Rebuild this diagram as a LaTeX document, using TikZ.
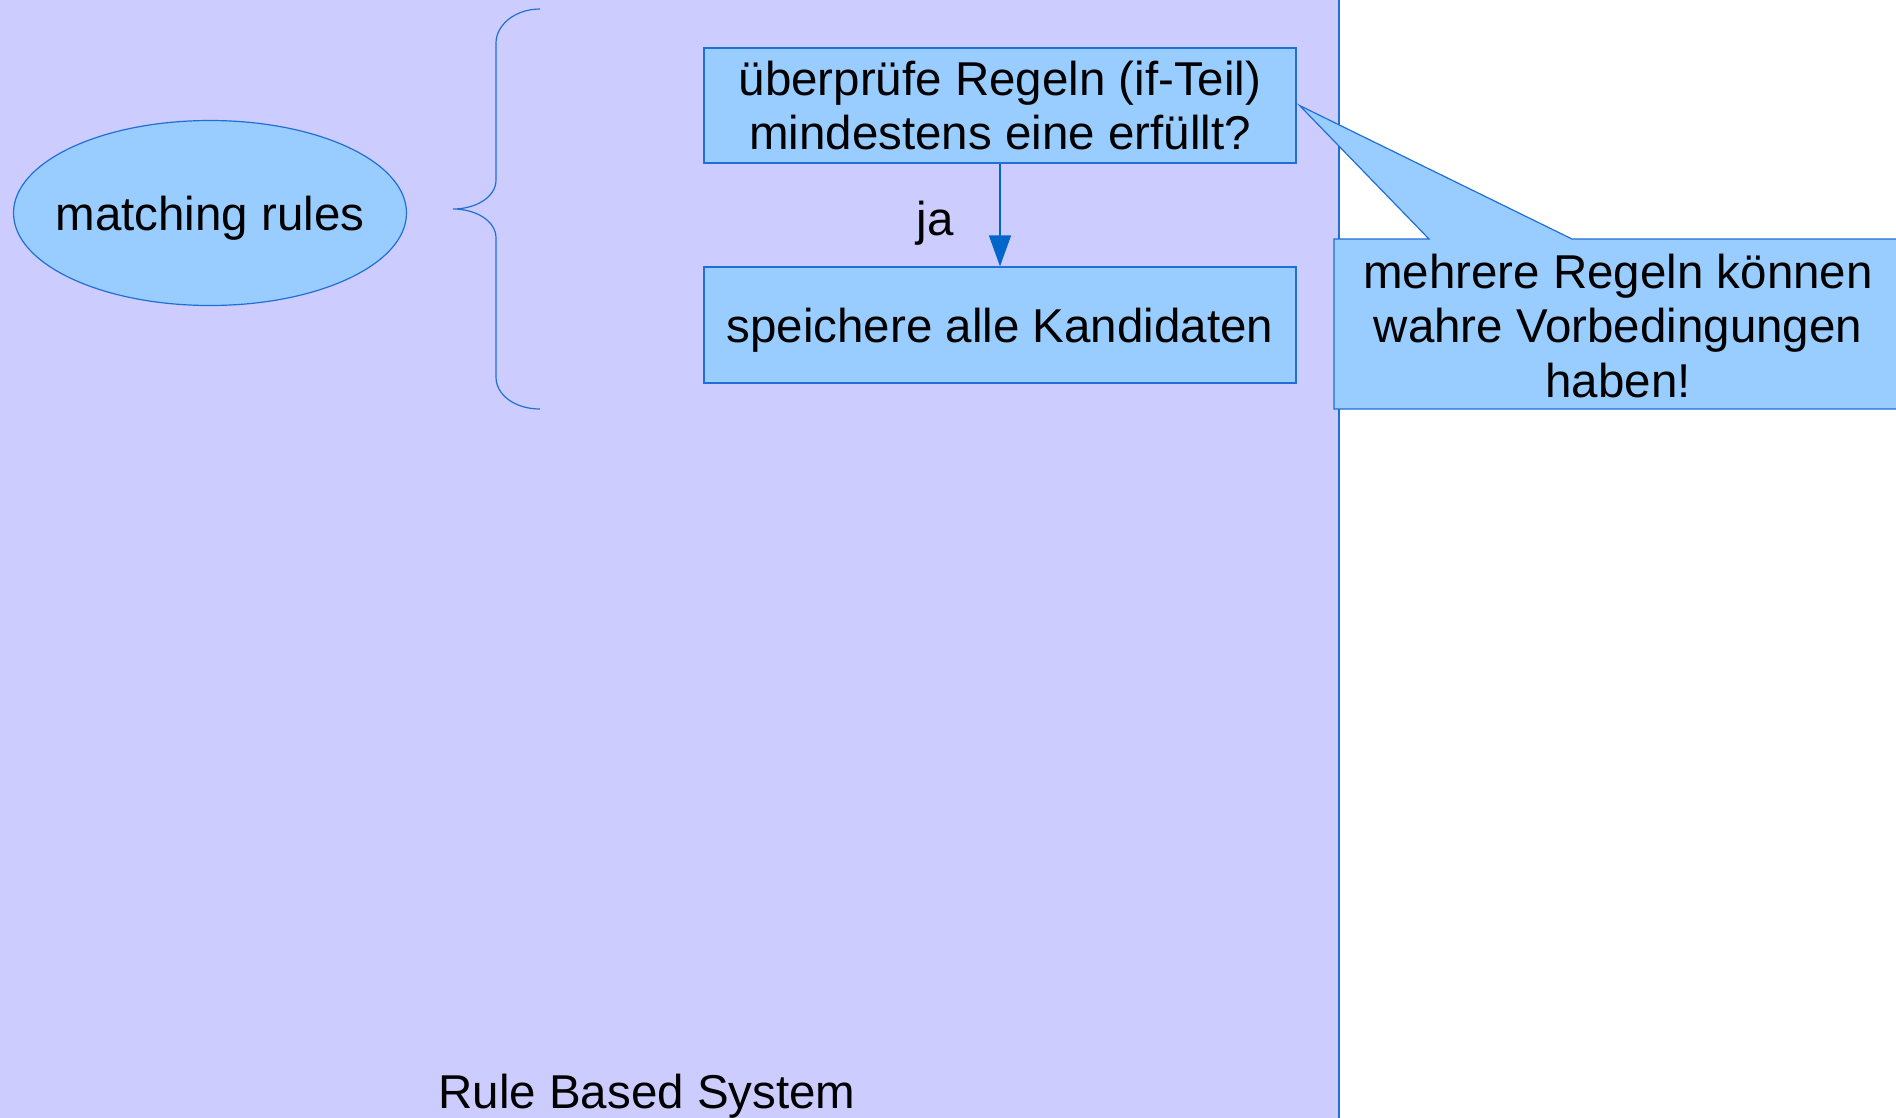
\documentclass[tikz,border=0pt]{standalone}
\usepackage{fontspec}
\setmainfont{Liberation Sans}
\usetikzlibrary{shapes.geometric,arrows.meta}
\definecolor{bglav}{HTML}{CCCCFF}
\definecolor{boxfill}{HTML}{99CCFF}
\definecolor{lineblue}{HTML}{1F6FD6}
\definecolor{arrowblue}{HTML}{0066CC}
\tikzset{
  lbl/.style={font=\fontsize{47.5}{54.5}\selectfont, text=black, align=center, inner sep=0pt},
  flowbox/.style={rectangle, draw=lineblue, line width=1.2pt, fill=boxfill, minimum width=592pt, minimum height=115pt, inner sep=0pt},
  oval/.style={ellipse, draw=lineblue, line width=1.2pt, fill=boxfill, minimum width=393pt, minimum height=185pt, inner sep=0pt},
  thinline/.style={draw=lineblue, line width=1.2pt},
  flowarrow/.style={draw=arrowblue, line width=1.2pt, -{Triangle[length=31pt,width=22pt,fill=arrowblue]}}
}
\begin{document}
\begin{tikzpicture}[x=1pt,y=-1pt]
\useasboundingbox (0,0) rectangle (1896,1117);
% background panel
\fill[bglav] (-5,-5) rectangle (1339,1122);
\draw[thinline] (1339,-5) -- (1339,1122);
% oval
\node[oval] (match) at (210,213) {};
\node[lbl] (matchtxt) at ([yshift=-5pt]match.center) {matching rules};
% brace
\coordinate (bt) at (540,9);
\coordinate (btip) at (453,209);
\coordinate (bb) at (540,409);
\draw[thinline] (bt) .. controls (515,9) and (496,25) .. (496,43) -- (496,180)
  .. controls (496,197) and (476,209) .. (btip)
  .. controls (476,209) and (496,221) .. (496,238) -- (496,377)
  .. controls (496,395) and (515,409) .. (bb);
% boxes
\node[flowbox] (check) at (1000,105.5) {};
\node[lbl] (checktxt) at (check.center) {überprüfe Regeln (if-Teil)\\mindestens eine erfüllt?};
\node[flowbox, minimum height=116pt] (store) at (1000,325) {};
\node[lbl] (storetxt) at ([yshift=-5pt]store.center) {speichere alle Kandidaten};
\draw[flowarrow] (check.south) -- (store.north);
\node[lbl] (ja) at (935,223) {ja};
% callout
\coordinate (tip) at ([xshift=3pt]check.east);
\path[fill=boxfill, thinline] (1334,239) -- (1429,239) -- (tip) -- (1572,239) -- (1914,239) -- (1914,409) -- (1334,409) -- cycle;
\node[lbl] (note) at (1618,326) {mehrere Regeln können\\wahre Vorbedingungen\\haben!};
% title
\node[lbl, anchor=base] (title) at (647,1108) {Rule Based System};
\end{tikzpicture}
\end{document}
